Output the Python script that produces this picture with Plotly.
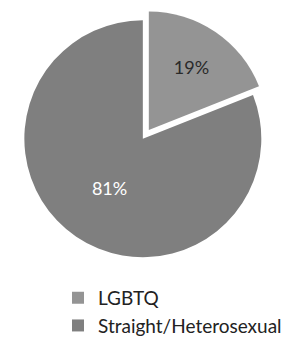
import plotly.graph_objects as go

labels = ["LGBTQ", "Straight/Heterosexual"]
values = [19, 81]
colors = ["#949494", "#7f7f7f"]
text_colors = ["#2a2a2a", "#ffffff"]
pulls = [0.09, 0]

fig = go.Figure(go.Pie(
    labels=labels,
    values=values,
    sort=False,
    direction="clockwise",
    rotation=0,
    pull=pulls,
    marker=dict(colors=colors, line=dict(width=0)),
    textinfo="percent",
    texttemplate="%{percent:.0%}",
    textposition="inside",
    insidetextorientation="horizontal",
    textfont=dict(color=text_colors, size=18, family="Lato"),
    domain=dict(x=[0, 0.89], y=[0.175, 0.995]),
    hoverinfo="label+percent",
))

fig.update_layout(
    width=303, height=337,
    margin=dict(l=0, r=0, t=0, b=0),
    paper_bgcolor="white",
    plot_bgcolor="white",
    showlegend=True,
    legend=dict(
        orientation="v",
        x=0.165, xanchor="left",
        y=0.14, yanchor="top",
        font=dict(size=19, family="Lato", color="#222222"),
        itemwidth=30,
        tracegroupgap=0,
    ),
)

fig.write_html("out.html")
